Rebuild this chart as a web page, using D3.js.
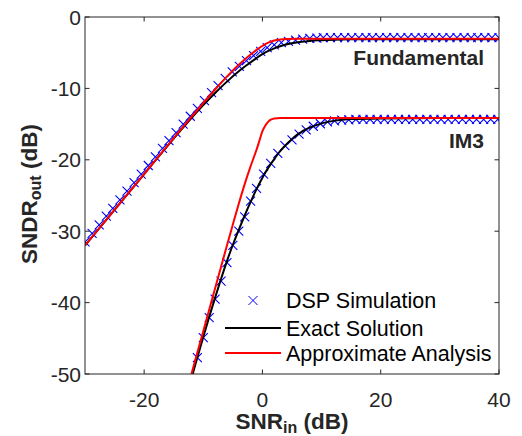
<!DOCTYPE html>
<html>
<head>
<meta charset="utf-8">
<script src="https://cdn.jsdelivr.net/npm/d3@7"></script>
<style>
  body { margin: 0; background: #fff; }
  svg text { font-family: "Liberation Sans", Arial, Helvetica, sans-serif; fill: #262626; }
</style>
</head>
<body>
<div id="chart"></div>
<script>
// DSP simulation points (markers)
var fundSimX = [-30.0, -28.8, -27.6, -26.4, -25.3, -24.1, -22.9, -21.7, -20.5, -19.3, -18.1, -16.9, -15.8, -14.6, -13.4, -12.2, -11.0, -9.8, -8.6, -7.5, -6.3, -5.1, -3.9, -2.7, -1.5, -0.3, 0.8, 2.0, 3.2, 4.4, 5.6, 6.8, 8.0, 9.2, 10.3, 11.5, 12.7, 13.9, 15.1, 16.3, 17.5, 18.6, 19.8, 21.0, 22.2, 23.4, 24.6, 25.8, 27.0, 28.1, 29.3, 30.5, 31.7, 32.9, 34.1, 35.3, 36.4, 37.6, 38.8, 40.0]
var fundSimY = [-31.5, -30.3, -29.1, -27.9, -26.8, -25.6, -24.4, -23.2, -22.0, -20.8, -19.6, -18.4, -17.3, -16.2, -15.0, -13.9, -12.8, -11.7, -10.6, -9.6, -8.6, -7.7, -6.9, -6.1, -5.4, -4.8, -4.3, -3.9, -3.6, -3.4, -3.25, -3.1, -3.0, -2.95, -2.9, -2.9, -2.9, -2.9, -2.9, -2.9, -2.9, -2.9, -2.9, -2.9, -2.9, -2.9, -2.9, -2.9, -2.9, -2.9, -2.9, -2.9, -2.9, -2.9, -2.9, -2.9, -2.9, -2.9, -2.9, -2.9]
var im3SimX = [-11, -10, -9, -8, -7, -6, -5, -4, -3, -2, -1, 0.2, 1.4, 2.6, 3.8, 5.0, 6.2, 7.4, 8.6, 9.8, 11.0, 12.2, 13.4, 14.6, 15.8, 17.0, 18.2, 19.4, 20.6, 21.8, 23.0, 24.2, 25.4, 26.6, 27.8, 29.0, 30.2, 31.4, 32.6, 33.8, 35.0, 36.2, 37.4, 38.6, 39.8]
var im3SimY = [-47.7, -44.9, -42.1, -39.5, -37.0, -34.4, -32.0, -30.0, -28.0, -25.8, -24.0, -22.0, -20.5, -19.1, -18.0, -17.2, -16.4, -15.8, -15.3, -14.95, -14.7, -14.55, -14.45, -14.4, -14.35, -14.35, -14.35, -14.35, -14.35, -14.35, -14.35, -14.35, -14.35, -14.35, -14.35, -14.35, -14.35, -14.35, -14.35, -14.35, -14.35, -14.35, -14.35, -14.35, -14.35]

// exact solution (black)
var fundExactX = [-30, -20, -14, -12, -10, -8, -6, -4, -2, -1, 0, 1, 2, 3, 4, 6, 8, 10, 12, 15, 20, 30, 40]
var fundExactY = [-32.0, -22.0, -16.05, -14.15, -12.35, -10.65, -9.05, -7.6, -6.35, -5.75, -5.2, -4.75, -4.4, -4.1, -3.85, -3.55, -3.35, -3.25, -3.17, -3.12, -3.1, -3.1, -3.1]
var im3ExactX = [-12.5, -12, -11, -10, -9, -8, -7, -6, -5, -4, -3, -2, -1, 0, 1, 2, 3, 4, 5, 6, 7, 8, 10, 12, 15, 20, 30, 40]
var im3ExactY = [-53.0, -50.8, -47.7, -44.8, -42.0, -39.3, -36.7, -34.2, -31.9, -29.8, -27.8, -25.9, -24.1, -22.5, -21.1, -19.9, -18.8, -17.9, -17.1, -16.4, -15.9, -15.5, -14.9, -14.55, -14.3, -14.2, -14.15, -14.15]

// approximate analysis (red)
var fundApproxX = [-30, -20, -12, -10, -8, -6, -4, -3, -2, -1, 0, 1, 2, 3, 4, 6, 40]
var fundApproxY = [-32.0, -22.0, -14.0, -12.05, -10.15, -8.35, -6.7, -5.95, -5.25, -4.6, -4.05, -3.6, -3.3, -3.15, -3.08, -3.05, -3.05]
var im3ApproxX = [-13, -12, -10, -8, -6, -5, -4, -3, -2, -1, -0.5, 0, 0.5, 1, 1.5, 2, 3, 40]
var im3ApproxY = [-53.0, -50.0, -44.0, -38.0, -32.0, -29.05, -26.15, -23.4, -20.9, -18.6, -17.3, -16.0, -15.2, -14.65, -14.35, -14.2, -14.15, -14.15]

var xTicks = [-20, 0, 20, 40]
var yTicks = [-50, -40, -30, -20, -10, 0]
var legendLabels = ["DSP Simulation", "Exact Solution", "Approximate Analysis"]
var curveLabels = ["Fundamental", "IM3"]

var width = 522, height = 436
var padL = 85, padR = 499, padT = 17, padB = 374

var svg = d3.select("#chart").append("svg")
    .attr("width", width)
    .attr("height", height)

var x = d3.scaleLinear().domain([-30, 40]).range([padL, padR])
var y = d3.scaleLinear().domain([-50, 0]).range([padB, padT])

svg.append("defs").append("clipPath").attr("id", "clip")
    .append("rect")
    .attr("x", padL).attr("y", padT)
    .attr("width", padR - padL).attr("height", padB - padT)

var plot = svg.append("g").attr("clip-path", "url(#clip)")

function zip(xs, ys) {
    return xs.map(function(v, i) { return [v, ys[i]] })
}

// blue x markers
function drawMarkers(pts) {
    var s = 4.5
    plot.append("g").selectAll("path")
        .data(pts)
        .enter()
        .append("path")
        .attr("d", function(d) {
            var cx = x(d[0]), cy = y(d[1])
            return "M" + (cx - s) + "," + (cy - s) + "L" + (cx + s) + "," + (cy + s) +
                "M" + (cx - s) + "," + (cy + s) + "L" + (cx + s) + "," + (cy - s)
        })
        .attr("stroke", "#0000ff")
        .attr("stroke-width", 1.1)
        .attr("fill", "none")
}
drawMarkers(zip(fundSimX, fundSimY))
drawMarkers(zip(im3SimX, im3SimY))

var line = d3.line()
    .x(function(d) { return x(d[0]) })
    .y(function(d) { return y(d[1]) })
    .curve(d3.curveMonotoneX)

function drawLine(pts, color) {
    plot.append("path")
        .datum(pts)
        .attr("d", line)
        .attr("fill", "none")
        .attr("stroke", color)
        .attr("stroke-width", 2)
}
drawLine(zip(fundExactX, fundExactY), "#000000")
drawLine(zip(im3ExactX, im3ExactY), "#000000")
drawLine(zip(fundApproxX, fundApproxY), "#ff0000")
drawLine(zip(im3ApproxX, im3ApproxY), "#ff0000")

// axes box with inward ticks
var axisColor = "#262626"
svg.append("rect")
    .attr("x", padL).attr("y", padT)
    .attr("width", padR - padL).attr("height", padB - padT)
    .attr("fill", "none")
    .attr("stroke", axisColor)
    .attr("stroke-width", 1)

var tickLen = 4.5
var gx = svg.append("g")
xTicks.forEach(function(t) {
    gx.append("line").attr("x1", x(t)).attr("x2", x(t)).attr("y1", padB).attr("y2", padB - tickLen)
        .attr("stroke", axisColor)
    gx.append("line").attr("x1", x(t)).attr("x2", x(t)).attr("y1", padT).attr("y2", padT + tickLen)
        .attr("stroke", axisColor)
    gx.append("text")
        .attr("x", x(t)).attr("y", padB + 33)
        .attr("text-anchor", "middle")
        .style("font-size", "21px")
        .text(t)
})
var gy = svg.append("g")
yTicks.forEach(function(t) {
    gy.append("line").attr("x1", padL).attr("x2", padL + tickLen).attr("y1", y(t)).attr("y2", y(t))
        .attr("stroke", axisColor)
    gy.append("line").attr("x1", padR).attr("x2", padR - tickLen).attr("y1", y(t)).attr("y2", y(t))
        .attr("stroke", axisColor)
    gy.append("text")
        .attr("x", padL - 4).attr("y", y(t) + 7.5)
        .attr("text-anchor", "end")
        .style("font-size", "21px")
        .text(t)
})

// axis labels
var xl = svg.append("text")
    .attr("x", 292).attr("y", 429)
    .attr("text-anchor", "middle")
    .style("font-size", "22.5px")
    .style("font-weight", "bold")
xl.append("tspan").text("SNR")
xl.append("tspan").attr("dy", 4).style("font-size", "16px").text("in")
xl.append("tspan").attr("dy", -4).text(" (dB)")

var yl = svg.append("text")
    .attr("transform", "translate(37,194) rotate(-90)")
    .attr("text-anchor", "middle")
    .style("font-size", "22.5px")
    .style("font-weight", "bold")
yl.append("tspan").text("SNDR")
yl.append("tspan").attr("dy", 4).style("font-size", "16px").text("out")
yl.append("tspan").attr("dy", -4).text(" (dB)")

// curve annotations
svg.append("text")
    .attr("x", 484).attr("y", 65)
    .attr("text-anchor", "end")
    .style("font-size", "21px")
    .style("font-weight", "bold")
    .text(curveLabels[0])
svg.append("text")
    .attr("x", 484).attr("y", 148)
    .attr("text-anchor", "end")
    .style("font-size", "21px")
    .style("font-weight", "bold")
    .text(curveLabels[1])

// legend
var legY = [300.5, 328, 353]
var lg = svg.append("g")
var ms = 4.5
lg.append("path")
    .attr("d", "M" + (253 - ms) + "," + (legY[0] - ms) + "L" + (253 + ms) + "," + (legY[0] + ms) +
        "M" + (253 - ms) + "," + (legY[0] + ms) + "L" + (253 + ms) + "," + (legY[0] - ms))
    .attr("stroke", "#0000ff").attr("fill", "none")
lg.append("line").attr("x1", 225).attr("x2", 281).attr("y1", legY[1]).attr("y2", legY[1])
    .attr("stroke", "#000000").attr("stroke-width", 2)
lg.append("line").attr("x1", 225).attr("x2", 281).attr("y1", legY[2]).attr("y2", legY[2])
    .attr("stroke", "#ff0000").attr("stroke-width", 2)
legendLabels.forEach(function(lab, i) {
    lg.append("text")
        .attr("x", 286).attr("y", legY[i] + 7.5)
        .style("font-size", "21.5px")
        .style("fill", "#000")
        .text(lab)
})
</script>
</body>
</html>
